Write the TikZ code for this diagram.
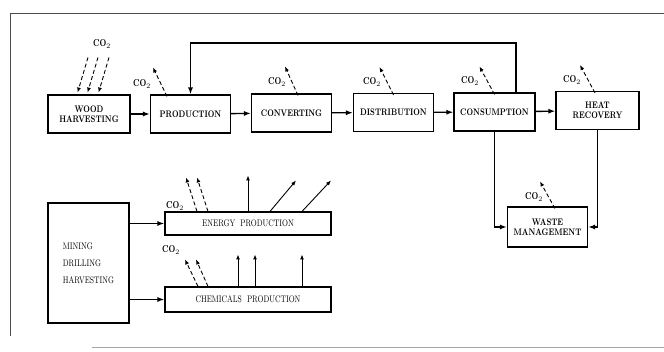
\documentclass[tikz,border=0pt]{standalone}
\usepackage{fontspec}
\newfontfamily\boxfont[FakeStretch=0.78]{Latin Modern Roman}
\usetikzlibrary{arrows.meta,positioning}
\begin{document}
\begin{tikzpicture}[x=1pt,y=-1pt]
    \tikzset{
    box/.style={draw,line width=1.1pt,minimum width=80pt,minimum height=38pt,inner sep=1pt,
        align=center,font=\boxfont\fontsize{9.5}{10}\selectfont\bfseries},
    wide/.style={box,minimum width=166pt,font=\boxfont\fontsize{9.5}{11}\selectfont},
    flow/.style={-{Latex[length=7pt,width=5pt]},line width=1.4pt},
    gas/.style={-{Latex[length=5pt,width=4pt]},dash pattern=on 4pt off 2.5pt,line width=0.9pt},
    rise/.style={-{Latex[length=5pt,width=4pt]},line width=0.9pt},
    co2/.style={font=\boxfont\fontsize{10}{11}\selectfont\bfseries},
    frame/.style={line width=0.9pt,black!70},
    }
    \useasboundingbox (0,0) rectangle (664,352);
    \draw[frame] (664,13) -- (10,13) -- (10,336);
    \draw[frame,black!35] (92,347) -- (664,347);

    % wood chain
    \node[box,minimum width=82pt] (wood) at (89,114) {WOOD\\HARVESTING};
    \node[box] (prod) at (190.5,114) {PRODUCTION};
    \node[box] (conv) at (291.5,113) {CONVERTING};
    \node[box] (dist) at (393.5,112.5) {DISTRIBUTION};
    \node[box,minimum width=81pt] (cons) at (494.5,112) {CONSUMPTION};
    \node[box,minimum width=83pt] (heat) at (597.5,110.5) {HEAT\\RECOVERY};
    \node[box,minimum height=40pt] (waste) at (547.5,227) {WASTE\\MANAGEMENT};

    % fossil side
    \node[box,minimum width=81pt,minimum height=120pt,align=left,
        font=\boxfont\fontsize{9.5}{17}\selectfont] (mine) at (88.5,263) {MINING\\DRILLING\\HARVESTING};
    \node[wide,minimum height=23pt] (energy) at (248,223.5) {ENERGY\ \ PRODUCTION};
    \node[wide,minimum height=25pt] (chem) at (248,299.5) {CHEMICALS\ \ PRODUCTION};

    \draw[flow] (wood) -- (prod);
    \draw[flow] (prod) -- (conv);
    \draw[flow] (conv) -- (dist);
    \draw[flow] (dist) -- (cons);
    \draw[flow] (cons) -- (heat);
    \coordinate (loop) at (516,43);
    \draw[flow] (cons.north -| loop) |- (prod.north |- loop) -- (prod.north);
    \draw[flow] (cons.south) |- (waste.west);
    \draw[flow] (heat.south) |- (waste.east);
    \draw[flow] (mine.east |- energy) -- (energy.west);
    \draw[flow] (mine.east |- chem) -- (chem.west);

    % CO2 taken up and given off
    \node[co2] (cwood) at (102,44) {CO$_2$};
    \foreach \dx in {-12,-2,9}
        \draw[gas,shorten >=2pt] ([xshift=\dx pt]wood.north) ++(11,-37) -- ([xshift=\dx pt]wood.north);
    \node[co2] (cprod) at (142,84) {CO$_2$};
    \draw[gas] ([xshift=-23.5pt,yshift=-2pt]prod.north) -- ++(-14,-29);
    \node[co2] (cconv) at (277,82) {CO$_2$};
    \draw[gas] ([xshift=6.5pt,yshift=-2pt]conv.north) -- ++(-13,-29);
    \node[co2] (cdist) at (372,82) {CO$_2$};
    \draw[gas] ([yshift=-2pt]dist.north) -- ++(-14,-28);
    \node[co2] (ccons) at (470,81) {CO$_2$};
    \draw[gas] ([yshift=-2pt]cons.north) -- ++(-15,-28);
    \node[co2] (cheat) at (572,80) {CO$_2$};
    \draw[gas] ([xshift=-2.5pt,yshift=-2pt]heat.north) -- ++(-15,-28);
    \node[co2] (cwaste) at (534,197) {CO$_2$};
    \draw[gas] ([xshift=7.5pt,yshift=-2pt]waste.north) -- ++(-15,-27);

    \node[co2] (cenergy) at (175,206) {CO$_2$};
    \draw[gas] ([xshift=-51pt]energy.north) -- ++(-11,-34);
    \draw[gas] ([xshift=-40pt]energy.north) -- ++(-11,-34);
    \draw[rise] (energy.north) -- ++(0,-36);
    \draw[rise] ([xshift=22pt]energy.north) -- ++(26,-31);
    \draw[rise] ([xshift=54pt]energy.north) -- ++(29,-31);

    \node[co2] (cchem) at (171,250) {CO$_2$};
    \draw[gas] ([xshift=-50pt]chem.north) -- ++(-13,-27);
    \draw[gas] ([xshift=-40pt]chem.north) -- ++(-12,-27);
    \draw[rise] ([xshift=-10pt]chem.north) -- ++(0,-32);
    \draw[rise] ([xshift=7pt]chem.north) -- ++(0,-32);
    \draw[rise] ([xshift=54pt]chem.north) -- ++(0,-32);
\end{tikzpicture}
\end{document}
